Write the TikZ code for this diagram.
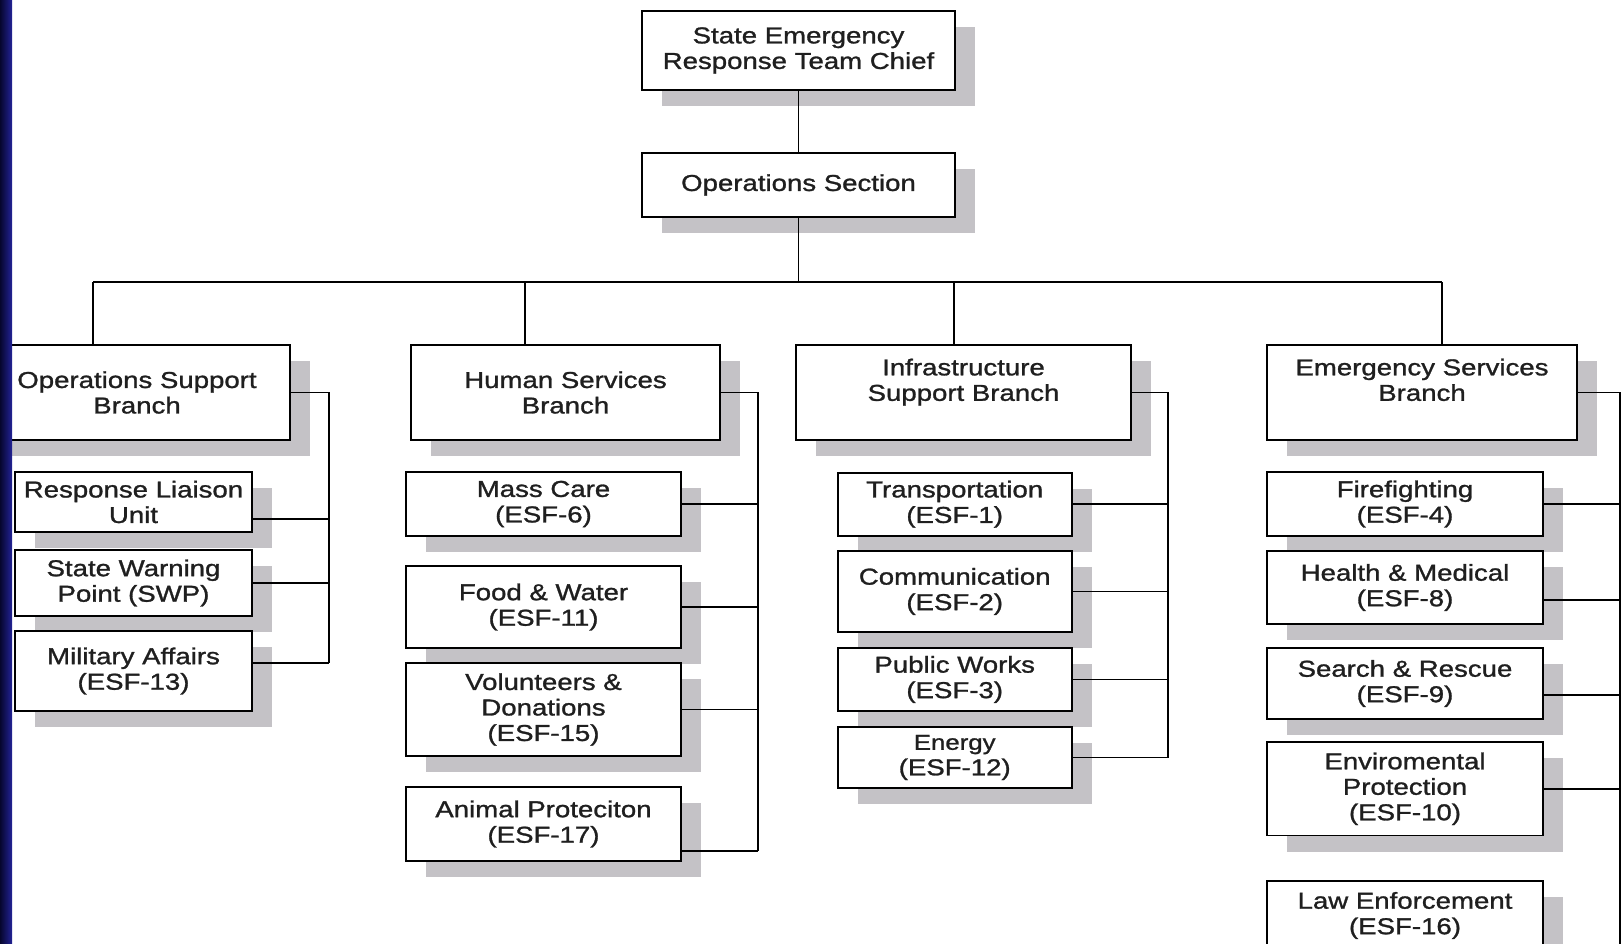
\documentclass[tikz,border=0pt]{standalone}
\usepackage{fontspec}
\setmainfont{Liberation Sans}[FakeStretch=1.2, FakeBold=1.2]
\usetikzlibrary{shadows}
\definecolor{shadowgray}{RGB}{196,194,198}
\definecolor{barblue}{RGB}{34,34,150}
\definecolor{bardark}{RGB}{6,6,45}

\begin{document}
\begin{tikzpicture}[x=1pt, y=-1pt,
	box/.style={draw=black, line width=1.6pt, fill=white, align=center, inner sep=0pt,
		font=\fontsize{23}{25.5}\selectfont, text=black!88,
		general shadow={fill=shadowgray, shadow xshift=20pt, shadow yshift=-16pt}},
	wire/.style={draw=black, line width=1.6pt}]
	\useasboundingbox (0,0) rectangle (1623,943);

	\node[box, minimum width=313pt, minimum height=79pt] (0) at (798.5,50.5)  {State Emergency\\Response Team Chief};
	\node[box, minimum width=313pt, minimum height=64pt] (1) at (798.5,185)   {Operations Section};

	\node[box, minimum width=306pt, minimum height=95pt] (2) at (137,392.5)   {Operations Support\\Branch};
	\node[box, minimum width=309pt, minimum height=95pt] (3) at (565.5,392.5) {Human Services\\Branch};
	\node[box, minimum width=335pt, minimum height=95pt] (4) at (963.5,392.5) {Infrastructure\\Support Branch\\\mbox{}};
	\node[box, minimum width=310pt, minimum height=95pt] (5) at (1422,392.5)  {Emergency Services\\Branch\\\mbox{}};

	\node[box, minimum width=237pt, minimum height=60pt] (6) at (133.5,502) {Response Liaison\\Unit};
	\node[box, minimum width=237pt, minimum height=66pt] (7) at (133.5,583) {State Warning\\Point (SWP)};
	\node[box, minimum width=237pt, minimum height=80pt] (8) at (133.5,671) {Military Affairs\\(ESF-13)};

	\node[box, minimum width=275pt, minimum height=64pt] (9)  at (543.5,504)   {Mass Care\\(ESF-6)};
	\node[box, minimum width=275pt, minimum height=82pt] (10) at (543.5,607)   {Food \& Water\\(ESF-11)};
	\node[box, minimum width=275pt, minimum height=93pt] (11) at (543.5,709.5) {Volunteers \&\\Donations\\(ESF-15)};
	\node[box, minimum width=275pt, minimum height=74pt] (12) at (543.5,824)   {Animal Proteciton\\(ESF-17)};

	\node[box, minimum width=234pt, minimum height=63pt] (13) at (954.7,504.2) {Transportation\\(ESF-1)};
	\node[box, minimum width=234pt, minimum height=81pt] (14) at (954.7,591.4) {Communication\\(ESF-2)};
	\node[box, minimum width=234pt, minimum height=63pt] (15) at (954.7,679.4) {Public Works\\(ESF-3)};
	\node[box, minimum width=234pt, minimum height=61pt] (16) at (954.7,757.5) {{\fontsize{21.5}{23}\selectfont Energy}\\(ESF-12)};

	\node[box, minimum width=276pt, minimum height=64pt]   (17) at (1405,504)   {Firefighting\\(ESF-4)};
	\node[box, minimum width=276pt, minimum height=73pt]   (18) at (1405,587.5) {Health \& Medical\\(ESF-8)};
	\node[box, minimum width=276pt, minimum height=71pt]   (19) at (1405,683.5) {Search \& Rescue\\(ESF-9)};
	\node[box, minimum width=276pt, minimum height=93.5pt] (20) at (1405,788.8) {Enviromental\\Protection\\(ESF-10)};
	\node[box, minimum width=276pt, minimum height=69pt]   (21) at (1405,915.5) {Law Enforcement\\(ESF-16)};

	% top of the chart
	\coordinate (bus) at (798.5,282);
	\coordinate (a) at (93,282);
	\coordinate (b) at (525,282);
	\coordinate (c) at (954,282);
	\coordinate (d) at (1442,282);
	\draw[wire] (0) -- (1);
	\draw[wire] (1) -- (bus);
	\draw[wire] (a) -- (d);
	\draw[wire] (a) -- (a |- 2.north);
	\draw[wire] (b) -- (b |- 3.north);
	\draw[wire] (c) -- (c |- 4.north);
	\draw[wire] (d) -- (d |- 5.north);

	% branch lines
	\coordinate (v2) at (329,663);
	\coordinate (v3) at (758,851);
	\coordinate (v4) at (1168,755.7);
	\coordinate (v5) at (1620,950);
	\draw[wire] (2.east) -| (v2);
	\draw[wire] (3.east) -| (v3);
	\draw[wire] (4.east) -| (v4);
	\draw[wire] (5.east) -| (v5);

	\draw[wire] ([yshift=-17pt]6.east) -| (v2);
	\draw[wire] (7.east) -| (v2);
	\draw[wire] ([yshift=8pt]8.east) -| (v2);

	\draw[wire] (9.east) -| (v3);
	\draw[wire] (10.east) -| (v3);
	\draw[wire] (11.east) -| (v3);
	\draw[wire] ([yshift=-27pt]12.east) -| (v3);

	\draw[wire] (13.east) -| (v4);
	\draw[wire] (14.east) -| (v4);
	\draw[wire] (15.east) -| (v4);
	\draw[wire] (16.east) -| (v4);

	\draw[wire] (17.east) -| (v5);
	\draw[wire] ([yshift=-12.5pt]18.east) -| (v5);
	\draw[wire] ([yshift=-11.5pt]19.east) -| (v5);
	\draw[wire] (20.east) -| (v5);

	% slide border
	\shade[left color=bardark, right color=barblue] (0,0) rectangle (12,943);
\end{tikzpicture}
\end{document}
